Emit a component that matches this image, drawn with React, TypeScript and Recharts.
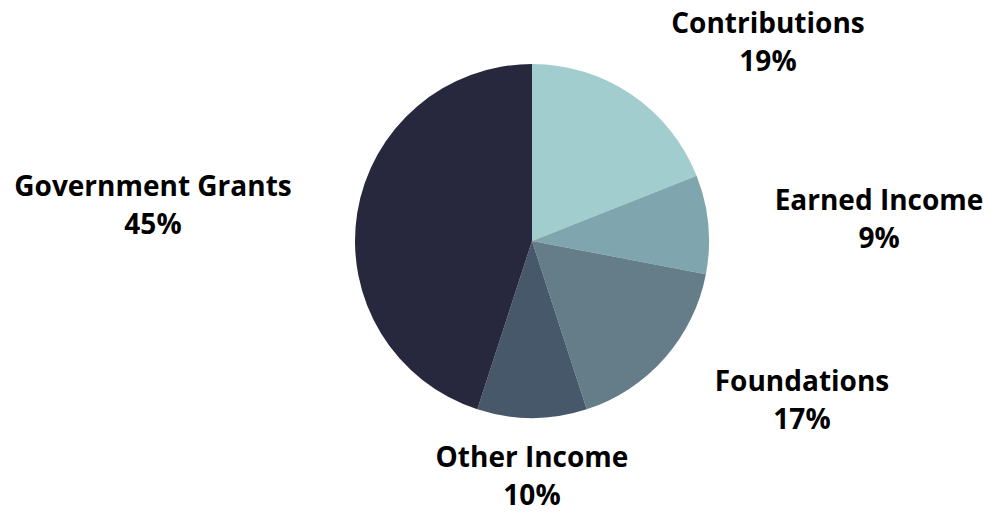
import React from 'react';
import { PieChart, Pie, Cell } from 'recharts';

const categories = ['Contributions', 'Earned Income', 'Foundations', 'Other Income', 'Government Grants'];
const shares = [19, 9, 17, 10, 45];
const colors = ['#a2cdce', '#7fa6ae', '#657c89', '#465869', '#27283d'];

const data = categories.map((name, i) => ({ name, value: shares[i] }));

// label centers relative to pie center (hand placed like the original)
const labelOffsets: Record<string, [number, number]> = {
  'Contributions': [236, -219],
  'Earned Income': [347, -42],
  'Foundations': [270, 139],
  'Other Income': [0, 215],
  'Government Grants': [-379, -56],
};

const renderLabel = (props: any) => {
  const { cx, cy, name, value } = props;
  const [dx, dy] = labelOffsets[name] || [0, 0];
  const x = cx + dx;
  const y = cy + dy;
  return (
    <g>
      <text x={x} y={y} textAnchor="middle" dominantBaseline="central"
        fontFamily="'Open Sans', sans-serif" fontWeight={700} fontSize={28} fill="#000">
        {name}
      </text>
      <text x={x} y={y + 38} textAnchor="middle" dominantBaseline="central"
        fontFamily="'Open Sans', sans-serif" fontWeight={700} fontSize={28} fill="#000">
        {value}%
      </text>
    </g>
  );
};

export default function App() {
  return (
    <div style={{ position: 'absolute', left: 0, top: 0, width: 989, height: 513, background: '#fff' }}>
      <PieChart width={989} height={513} margin={{ top: 0, right: 0, bottom: 0, left: 0 }}>
        <Pie
          data={data}
          dataKey="value"
          nameKey="name"
          cx={532}
          cy={241}
          outerRadius={177}
          startAngle={90}
          endAngle={-270}
          stroke="none"
          labelLine={false}
          label={renderLabel}
          isAnimationActive={false}
        >
          {data.map((d, i) => (
            <Cell key={d.name} fill={colors[i]} />
          ))}
        </Pie>
      </PieChart>
    </div>
  );
}
